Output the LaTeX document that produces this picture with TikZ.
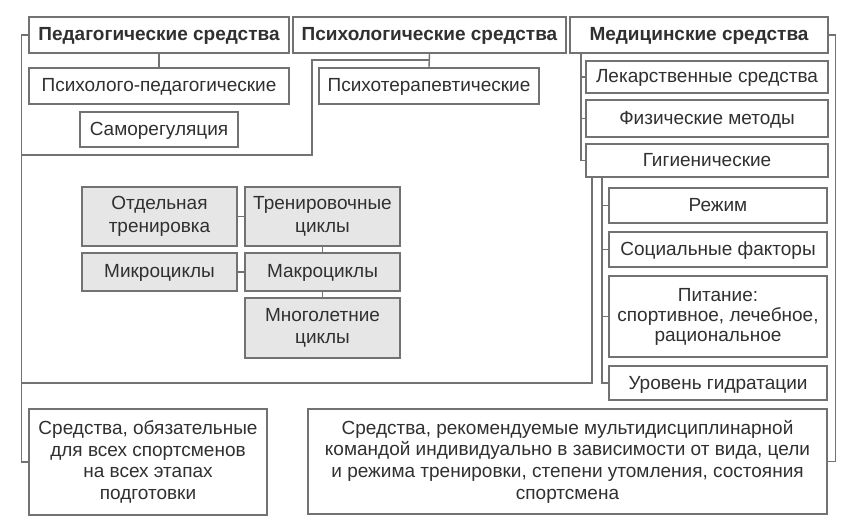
\documentclass[tikz,border=0pt]{standalone}
\usepackage{fontspec}
\setmainfont{Liberation Sans}
\definecolor{ln}{HTML}{727272}
\definecolor{tx}{HTML}{303030}
\definecolor{gf}{HTML}{E6E6E6}
\begin{document}
\begin{tikzpicture}[x=1pt,y=-1pt,
  every node/.style={font=\fontsize{19}{20}\selectfont, text=tx},
  bx/.style={draw=ln, line width=1.4pt, fill=white, inner sep=0pt, align=center,
    execute at begin node={\rule{0pt}{16pt}}, execute at end node={\rule[-4pt]{0pt}{0pt}}},
  tb/.style={bx, font=\fontsize{19}{20}\selectfont\bfseries},
  gb/.style={bx, fill=gf, font=\fontsize{19}{22.5}\selectfont},
  cn/.style={draw=ln, line width=1.4pt}]
\useasboundingbox[fill=white] (0,0) rectangle (856,526);
% top titles
\node[tb, minimum width=260pt, minimum height=36pt] (ped) at (159,35) {Педагогические средства};
\node[tb, minimum width=273pt, minimum height=36pt] (psy) at (429.5,35) {Психологические средства};
\node[tb, minimum width=258pt, minimum height=36pt] (med) at (699,35) {Медицинские средства};
% pedagogical
\node[bx, minimum width=260pt, minimum height=36pt] (pp) at (159,86) {Психолого-педагогические};
\node[bx, minimum width=158pt, minimum height=35pt] (sr) at (159,129.5) {Саморегуляция};
% psychological
\node[bx, minimum width=220pt, minimum height=36pt] (pt) at (429,86) {Психотерапевтические};
% medical
\node[bx, minimum width=242pt, minimum height=32pt] (lek) at (707,77) {Лекарственные средства};
\node[bx, minimum width=242pt, minimum height=37pt] (fiz) at (707,118.5) {Физические методы};
\node[bx, minimum width=242pt, minimum height=33pt] (gig) at (707,160.5) {Гигиенические};
\node[bx, minimum width=218pt, minimum height=35pt] (rez) at (718,205.5) {Режим};
\node[bx, minimum width=218pt, minimum height=35pt] (soc) at (718,249.5) {Социальные факторы};
\node[bx, minimum width=218pt, minimum height=81pt] (pit) at (718,316.5) {Питание:\\спортивное, лечебное,\\рациональное};
\node[bx, minimum width=218pt, minimum height=34pt] (ur) at (718,383) {Уровень гидратации};
% training blocks
\node[gb, minimum width=155pt, minimum height=59pt] (ot) at (159.5,216.5) {Отдельная\\тренировка};
\node[gb, minimum width=155pt, minimum height=59pt] (tr) at (322.5,216.5) {Тренировочные\\циклы};
\node[gb, minimum width=155pt, minimum height=38pt] (mi) at (159.5,272) {Микроциклы};
\node[gb, minimum width=155pt, minimum height=38pt] (ma) at (322.5,272) {Макроциклы};
\node[gb, minimum width=155pt, minimum height=60pt] (mn) at (322.5,328) {Многолетние\\циклы};
% bottom
\node[bx, minimum width=238pt, minimum height=106pt, font=\fontsize{19}{21.7}\selectfont] (bl) at (148,462) {Средства, обязательные\\для всех спортсменов\\на всех этапах\\подготовки};
\node[bx, minimum width=519pt, minimum height=105pt, font=\fontsize{19}{21.7}\selectfont] (br) at (567.5,461.5) {Средства, рекомендуемые мультидисциплинарной\\командой индивидуально в зависимости от вида, цели\\и режима тренировки, степени утомления, состояния\\спортсмена};
% coordinates for frames
\coordinate (lt) at (22,155);
\coordinate (pk) at (312,60);
\coordinate (lb) at (22,383);
\coordinate (gx) at (592,177);
\coordinate (gy) at (602,177);
% connectors
\draw[cn] (ped.west) -- ++(-7,0) |- (bl.west);
\draw[cn] (lt) -| (pk) -- (pk -| psy.south);
\draw[cn] (psy.south) -- (pt.north);
\draw[cn] (lb) -| (gx);
\draw[cn] (ped.south) -- (pp.north);
\draw[cn] (med.east) -- ++(7,0) |- (br.east);
\draw[cn] (med.south -| 581,0) |- (gig.west);
\draw[cn] (lek.west) -- (lek.west -| 581,0);
\draw[cn] (fiz.west) -- (fiz.west -| 581,0);
\draw[cn] (gy) |- (ur.west);
\draw[cn] (rez.west) -- (rez.west -| gy);
\draw[cn] (soc.west) -- (soc.west -| gy);
\draw[cn] (pit.west) -- (pit.west -| gy);
\draw[cn] (ot.east) -- (tr.west);
\draw[cn] (mi.east) -- (ma.west);
\draw[cn] (tr.south) -- (ma.north);
\draw[cn] (ma.south) -- (mn.north);
\end{tikzpicture}
\end{document}
